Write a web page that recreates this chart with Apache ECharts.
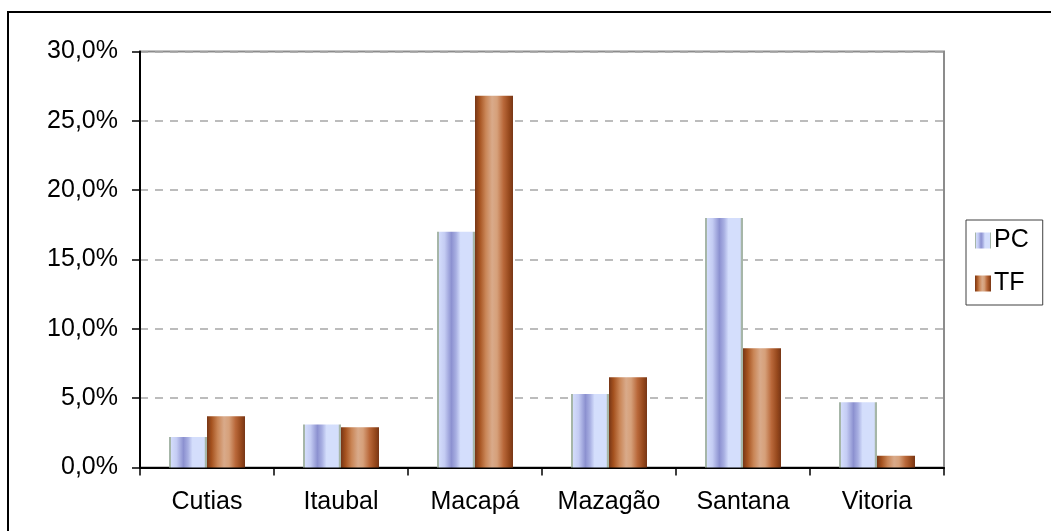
<!DOCTYPE html>
<html>
<head>
<meta charset="utf-8">
<style>
  html, body { margin: 0; padding: 0; background: #ffffff; }
  #chart { width: 1051px; height: 531px; }
</style>
<script src="https://cdn.jsdelivr.net/npm/echarts@6/dist/echarts.min.js"></script>
</head>
<body>
<div id="chart"></div>
<script>
// Municipalities and the share (%) for each series
const categories = ['Cutias', 'Itaubal', 'Macapá', 'Mazagão', 'Santana', 'Vitoria'];
const pcValues = [2.2, 3.1, 17.0, 5.3, 18.0, 4.7];
const tfValues = [3.7, 2.9, 26.8, 6.5, 8.6, 0.85];
const seriesNames = ['PC', 'TF'];
const yTicks = [0, 5, 10, 15, 20, 25, 30];

const FONT = '"Liberation Sans", Arial, sans-serif';

// Cylinder-like horizontal shading for each series
const pcFill = new echarts.graphic.LinearGradient(0, 0, 1, 0, [
  { offset: 0.00, color: '#a6b6a8' },
  { offset: 0.05, color: '#a6b6a8' },
  { offset: 0.06, color: '#d3dcfb' },
  { offset: 0.20, color: '#c4ccf3' },
  { offset: 0.38, color: '#8c91d0' },
  { offset: 0.50, color: '#a8afe2' },
  { offset: 0.62, color: '#d4defc' },
  { offset: 0.93, color: '#d4defc' },
  { offset: 0.95, color: '#a6b6a8' },
  { offset: 1.00, color: '#a6b6a8' }
]);
const tfFill = new echarts.graphic.LinearGradient(0, 0, 1, 0, [
  { offset: 0.00, color: '#773616' },
  { offset: 0.12, color: '#a5521f' },
  { offset: 0.28, color: '#c98556' },
  { offset: 0.45, color: '#d9aa8a' },
  { offset: 0.58, color: '#d6a07a' },
  { offset: 0.75, color: '#b9683a' },
  { offset: 0.90, color: '#96481c' },
  { offset: 1.00, color: '#773616' }
]);

const chart = echarts.init(document.getElementById('chart'), null, { renderer: 'canvas' });

chart.setOption({
  animation: false,
  backgroundColor: '#ffffff',
  textStyle: { fontFamily: FONT, color: '#000000' },
  graphic: [
    {
      type: 'rect',
      shape: { x: 8, y: 12, width: 1100, height: 600 },
      style: { fill: 'none', stroke: '#000000', lineWidth: 2 },
      silent: true,
      z: 0
    }
  ],
  grid: {
    left: 140,
    top: 51.5,
    right: 107,
    bottom: 63.5,
    show: true,
    borderColor: '#8c8c8c',
    borderWidth: 2,
    backgroundColor: 'transparent'
  },
  legend: {
    data: seriesNames,
    orient: 'vertical',
    left: 966,
    top: 220,
    padding: [8, 14, 9, 9],
    itemGap: 18,
    itemWidth: 16,
    itemHeight: 16,
    icon: 'rect',
    borderColor: '#404040',
    borderWidth: 1,
    textStyle: { fontFamily: FONT, fontSize: 25, color: '#000000', padding: [0, 0, 0, -2] }
  },
  xAxis: {
    type: 'category',
    data: categories,
    axisLine: { show: true, lineStyle: { color: '#000000', width: 2 } },
    axisTick: { show: true, alignWithLabel: false, length: 8, lineStyle: { color: '#000000', width: 1.5 } },
    axisLabel: { fontFamily: FONT, fontSize: 25, color: '#000000', margin: 22 },
    splitLine: { show: false }
  },
  yAxis: {
    type: 'value',
    min: 0,
    max: 30,
    interval: 5,
    axisLine: { show: true, lineStyle: { color: '#000000', width: 2 } },
    axisTick: { show: true, length: 8, lineStyle: { color: '#000000', width: 1.5 } },
    axisLabel: {
      fontFamily: FONT,
      fontSize: 25,
      color: '#000000',
      margin: 22,
      formatter: v => yTicks.includes(v) ? v.toFixed(1).replace('.', ',') + '%' : ''
    },
    splitLine: { show: true, lineStyle: { color: '#a6a6a6', width: 1.5, type: [8, 7] } }
  },
  series: [
    {
      name: seriesNames[0],
      type: 'bar',
      data: pcValues,
      barWidth: 38,
      barGap: '0%',
      itemStyle: { color: pcFill }
    },
    {
      name: seriesNames[1],
      type: 'bar',
      data: tfValues,
      barWidth: 38,
      barGap: '0%',
      itemStyle: { color: tfFill }
    }
  ]
});
</script>
</body>
</html>
